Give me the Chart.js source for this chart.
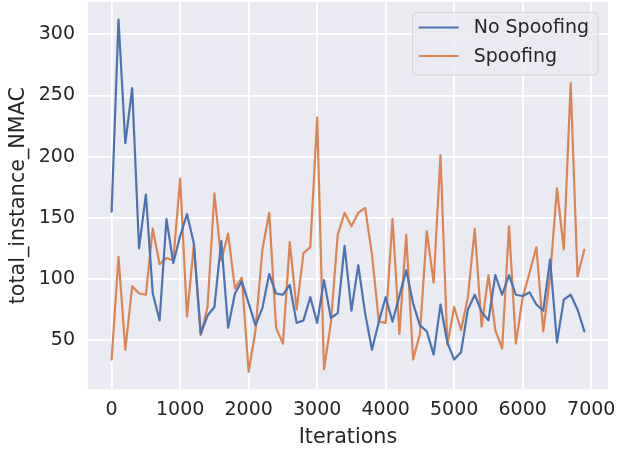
<!DOCTYPE html>
<html>
<head>
<meta charset="utf-8">
<title>total_instance_NMAC</title>
<script src="https://cdn.jsdelivr.net/npm/chart.js@4/dist/chart.umd.min.js"></script>
<style>
  html, body { margin: 0; padding: 0; background: #ffffff; }
  #wrap { width: 622px; height: 450px; }
</style>
</head>
<body>
<div id="wrap"><canvas id="chart" width="622" height="450"></canvas></div>
<script>
// Training iterations at which the metric was logged
const iterations = [
  0, 100, 200, 300, 400, 500, 600, 700, 800, 900,
  1000, 1100, 1200, 1300, 1400, 1500, 1600, 1700, 1800, 1900,
  2000, 2100, 2200, 2300, 2400, 2500, 2600, 2700, 2800, 2900,
  3000, 3100, 3200, 3300, 3400, 3500, 3600, 3700, 3800, 3900,
  4000, 4100, 4200, 4300, 4400, 4500, 4600, 4700, 4800, 4900,
  5000, 5100, 5200, 5300, 5400, 5500, 5600, 5700, 5800, 5900,
  6000, 6100, 6200, 6300, 6400, 6500, 6600, 6700, 6800, 6900
];

// total_instance_NMAC without spoofing
const noSpoofing = [
  155, 312, 211, 256, 125, 169, 88, 66, 149, 113,
  135, 153, 129, 55, 70, 77, 131, 60, 88, 98,
  80, 62, 76, 104, 88, 87, 95, 64, 66, 85,
  64, 99, 68, 72, 127, 74, 111, 72, 42, 65,
  85, 65, 86, 107, 80, 62, 57, 38, 79, 48,
  34, 40, 75, 87, 73, 66, 103, 87, 103, 87,
  86, 89, 79, 74, 116, 48, 83, 87, 75, 57
];

// total_instance_NMAC with spoofing
const spoofing = [
  34, 118, 42, 94, 88, 87, 141, 112, 117, 115,
  182, 69, 128, 54, 77, 170, 115, 137, 92, 101,
  24, 58, 124, 154, 60, 47, 130, 75, 121, 126,
  232, 26, 64, 136, 154, 143, 154, 158, 120, 65,
  64, 149, 55, 136, 34, 55, 139, 97, 201, 46,
  77, 58, 85, 141, 61, 103, 58, 43, 143, 47,
  85, 105, 126, 57, 102, 174, 124, 260, 102, 124
];

const seriesLabels = ['No Spoofing', 'Spoofing'];
const xTicks = [0, 1000, 2000, 3000, 4000, 5000, 6000, 7000];
const yTicks = [50, 100, 150, 200, 250, 300];

const FONT = '"DejaVu Sans", "Liberation Sans", sans-serif';
const TEXT = '#262626';
const BLUE = '#4C72B0';
const ORANGE = '#DD8452';
const FACE = '#EAEAF2';

// Axis limits with a 5% margin around the data
function padded(values) {
  const lo = Math.min(...values), hi = Math.max(...values);
  const m = (hi - lo) * 0.05;
  return [lo - m, hi + m];
}
const [xMin, xMax] = padded(iterations);
const [yMin, yMax] = padded(noSpoofing.concat(spoofing));

const toPoints = vals => vals.map((v, i) => ({ x: iterations[i], y: v }));

// Grey plotting face behind the grid
const facePlugin = {
  id: 'face',
  beforeDraw(chart) {
    const { ctx, chartArea: a } = chart;
    ctx.save();
    ctx.fillStyle = FACE;
    ctx.fillRect(a.left, a.top, a.right - a.left, a.bottom - a.top);
    ctx.restore();
  }
};

// Framed legend in the upper-right corner of the plot
const boxLegend = {
  id: 'boxLegend',
  afterDatasetsDraw(chart) {
    const { ctx, chartArea: a } = chart;
    const sets = chart.data.datasets;
    ctx.save();
    ctx.font = '19px ' + FONT;
    const textW = Math.max(...sets.map(d => ctx.measureText(d.label).width));
    const handle = 40, padL = 6, gap = 15, padR = 9, rowH = 28.5;
    const w = padL + handle + gap + textW + padR;
    const h = 62.5;
    const right = a.right - 10, top = a.top + 10.5;
    const left = right - w;
    ctx.beginPath();
    ctx.roundRect(left, top, w, h, 4);
    ctx.fillStyle = 'rgba(234,234,242,0.8)';
    ctx.fill();
    ctx.lineWidth = 1;
    ctx.strokeStyle = 'rgba(204,204,204,0.8)';
    ctx.stroke();
    sets.forEach((d, i) => {
      const y = top + 15 + i * rowH;
      ctx.beginPath();
      ctx.moveTo(left + padL, y);
      ctx.lineTo(left + padL + handle, y);
      ctx.strokeStyle = d.borderColor;
      ctx.lineWidth = 2.2;
      ctx.stroke();
      ctx.fillStyle = TEXT;
      ctx.textBaseline = 'middle';
      ctx.textAlign = 'left';
      ctx.fillText(d.label, left + padL + handle + gap, y + 1);
    });
    ctx.restore();
  }
};

const gridCfg = { color: '#ffffff', lineWidth: 1.8, drawTicks: false };

new Chart(document.getElementById('chart'), {
  type: 'line',
  data: {
    datasets: [
      { label: seriesLabels[0], data: toPoints(noSpoofing), borderColor: BLUE, backgroundColor: BLUE },
      { label: seriesLabels[1], data: toPoints(spoofing), borderColor: ORANGE, backgroundColor: ORANGE }
    ]
  },
  options: {
    responsive: false,
    animation: false,
    devicePixelRatio: 1,
    layout: { padding: { left: 0, right: 14, top: 2, bottom: 0 } },
    elements: {
      line: { borderWidth: 2.2, tension: 0, borderCapStyle: 'round', borderJoinStyle: 'round' },
      point: { radius: 0, hoverRadius: 0 }
    },
    plugins: {
      legend: { display: false },
      tooltip: { enabled: false }
    },
    scales: {
      x: {
        type: 'linear',
        min: xMin,
        max: xMax,
        grid: gridCfg,
        border: { display: false },
        afterBuildTicks: s => { s.ticks = xTicks.map(v => ({ value: v })); },
        afterFit: s => { s.height = 60.6; s.paddingLeft = 0; s.paddingRight = 0; },
        ticks: {
          font: { family: FONT, size: 19 },
          color: TEXT,
          padding: 9,
          maxRotation: 0,
          autoSkip: false,
          callback: v => String(v)
        },
        title: {
          display: true,
          text: 'Iterations',
          font: { family: FONT, size: 20.7 },
          color: TEXT,
          padding: { top: 2, bottom: 0 }
        }
      },
      y: {
        type: 'linear',
        min: yMin,
        max: yMax,
        grid: gridCfg,
        border: { display: false },
        afterBuildTicks: s => { s.ticks = yTicks.map(v => ({ value: v })); },
        afterFit: s => { s.width = 88; s.paddingTop = 0; s.paddingBottom = 0; },
        ticks: {
          font: { family: FONT, size: 19 },
          color: TEXT,
          padding: 13,
          autoSkip: false,
          callback: v => String(v)
        },
        title: {
          display: true,
          text: 'total_instance_NMAC',
          font: { family: FONT, size: 20.7 },
          color: TEXT,
          padding: { top: 6, bottom: 4 }
        }
      }
    }
  },
  plugins: [facePlugin, boxLegend]
});
</script>
</body>
</html>
